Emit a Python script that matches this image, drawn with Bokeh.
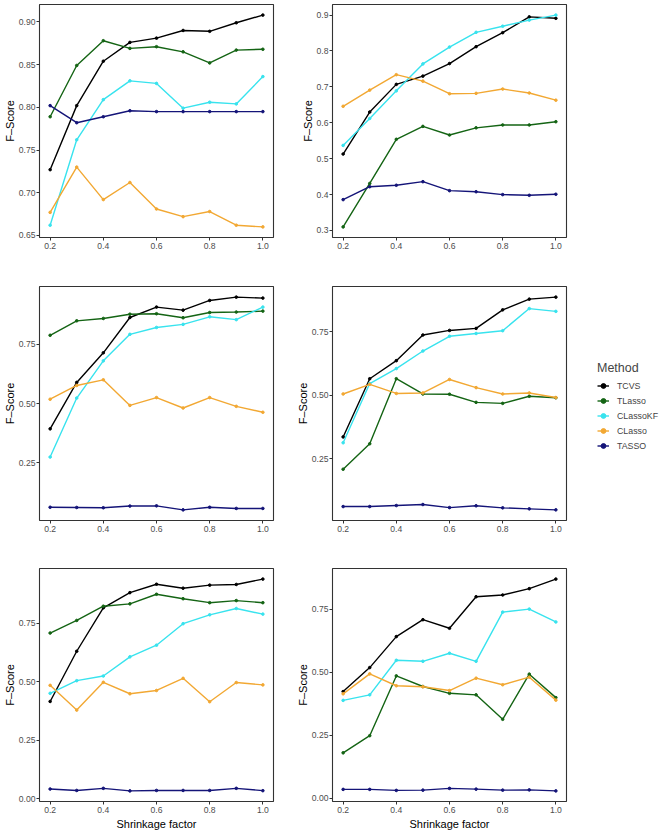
from bokeh.plotting import figure
from bokeh.layouts import row, column
from bokeh.models import Range1d, FixedTicker, PrintfTickFormatter, Legend, LegendItem
from bokeh.embed import file_html
from bokeh.resources import INLINE

# ---------------- data ----------------
shrinkage = [0.2, 0.3, 0.4, 0.5, 0.6, 0.7, 0.8, 0.9, 1.0]
x_ticks = [0.2, 0.4, 0.6, 0.8, 1.0]
methods = ["TCVS", "TLasso", "CLassoKF", "CLasso", "TASSO"]
colors = ["#000000", "#146414", "#38E3EE", "#F2A833", "#141478"]

# panel 1 (top left)
tcvs_1 = [0.727, 0.802, 0.854, 0.876, 0.881, 0.890, 0.889, 0.899, 0.908]
tlasso_1 = [0.789, 0.849, 0.878, 0.869, 0.871, 0.865, 0.852, 0.867, 0.868]
classokf_1 = [0.662, 0.762, 0.809, 0.831, 0.828, 0.799, 0.806, 0.804, 0.836]
classo_1 = [0.677, 0.730, 0.692, 0.712, 0.681, 0.672, 0.678, 0.662, 0.660]
tasso_1 = [0.802, 0.782, 0.789, 0.796, 0.795, 0.795, 0.795, 0.795, 0.795]
yticks_1 = [0.65, 0.70, 0.75, 0.80, 0.85, 0.90]

# panel 2 (top right)
tcvs_2 = [0.513, 0.630, 0.707, 0.730, 0.765, 0.812, 0.851, 0.895, 0.891]
tlasso_2 = [0.310, 0.431, 0.554, 0.590, 0.566, 0.586, 0.594, 0.594, 0.603]
classokf_2 = [0.537, 0.612, 0.689, 0.764, 0.811, 0.852, 0.869, 0.886, 0.900]
classo_2 = [0.646, 0.691, 0.734, 0.716, 0.681, 0.682, 0.694, 0.683, 0.663]
tasso_2 = [0.386, 0.422, 0.426, 0.436, 0.411, 0.408, 0.400, 0.398, 0.401]
yticks_2 = [0.3, 0.4, 0.5, 0.6, 0.7, 0.8, 0.9]

# panel 3 (middle left)
tcvs_3 = [0.393, 0.589, 0.714, 0.863, 0.907, 0.894, 0.935, 0.949, 0.945]
tlasso_3 = [0.788, 0.849, 0.859, 0.877, 0.879, 0.862, 0.884, 0.886, 0.890]
classokf_3 = [0.274, 0.523, 0.680, 0.792, 0.821, 0.834, 0.866, 0.854, 0.907]
classo_3 = [0.518, 0.576, 0.600, 0.492, 0.525, 0.481, 0.525, 0.488, 0.463]
tasso_3 = [0.062, 0.061, 0.060, 0.067, 0.068, 0.051, 0.062, 0.057, 0.057]
yticks_3 = [0.0, 0.25, 0.50, 0.75, 1.0]

# panel 4 (middle right)
tcvs_4 = [0.336, 0.565, 0.636, 0.737, 0.755, 0.763, 0.836, 0.878, 0.886]
tlasso_4 = [0.209, 0.309, 0.565, 0.505, 0.504, 0.472, 0.468, 0.496, 0.490]
classokf_4 = [0.313, 0.546, 0.605, 0.674, 0.732, 0.743, 0.754, 0.841, 0.830]
classo_4 = [0.505, 0.543, 0.507, 0.509, 0.562, 0.530, 0.505, 0.509, 0.491]
tasso_4 = [0.062, 0.062, 0.066, 0.070, 0.058, 0.065, 0.057, 0.053, 0.049]
yticks_4 = [0.0, 0.25, 0.50, 0.75, 1.0]

# panel 5 (bottom left)
tcvs_5 = [0.416, 0.631, 0.817, 0.882, 0.918, 0.901, 0.914, 0.917, 0.940]
tlasso_5 = [0.709, 0.763, 0.824, 0.834, 0.875, 0.856, 0.839, 0.848, 0.839]
classokf_5 = [0.451, 0.505, 0.525, 0.607, 0.657, 0.749, 0.787, 0.814, 0.790]
classo_5 = [0.485, 0.379, 0.498, 0.449, 0.463, 0.515, 0.415, 0.497, 0.487]
tasso_5 = [0.041, 0.035, 0.044, 0.033, 0.035, 0.035, 0.035, 0.044, 0.034]
yticks_5 = [0.0, 0.25, 0.50, 0.75, 1.0]

# panel 6 (bottom right)
tcvs_6 = [0.424, 0.519, 0.642, 0.709, 0.675, 0.800, 0.807, 0.832, 0.870]
tlasso_6 = [0.181, 0.249, 0.486, 0.444, 0.417, 0.411, 0.314, 0.493, 0.400]
classokf_6 = [0.389, 0.411, 0.548, 0.544, 0.576, 0.544, 0.739, 0.751, 0.700]
classo_6 = [0.415, 0.494, 0.447, 0.443, 0.428, 0.477, 0.451, 0.481, 0.390]
tasso_6 = [0.036, 0.036, 0.032, 0.033, 0.040, 0.037, 0.033, 0.034, 0.030]
yticks_6 = [0.0, 0.25, 0.50, 0.75, 1.0]

FONT = "Liberation Sans"


def make_panel(series, yticks, yfmt, width, height, top, bottom, xlabel=None):
    all_vals = [v for s in series for v in s]
    lo, hi = min(all_vals), max(all_vals)
    pad = (hi - lo) * 0.05
    xpad = (max(shrinkage) - min(shrinkage)) * 0.05
    p = figure(width=width, height=height,
               x_range=Range1d(min(shrinkage) - xpad, max(shrinkage) + xpad),
               y_range=Range1d(lo - pad, hi + pad),
               output_backend="svg", toolbar_location=None,
               min_border_left=39, min_border_right=20,
               min_border_top=top, min_border_bottom=bottom)
    p.xgrid.visible = False
    p.ygrid.visible = False
    p.outline_line_color = "#333333"
    p.outline_line_width = 1.1
    p.background_fill_color = "white"
    p.border_fill_color = "white"
    for ax in (p.xaxis[0], p.yaxis[0]):
        ax.axis_line_color = None
        ax.major_tick_in = 0
        ax.major_tick_out = 3
        ax.major_tick_line_color = "#333333"
        ax.minor_tick_line_color = None
        ax.major_label_text_font = FONT
        ax.major_label_text_font_size = "8.6px"
        ax.major_label_text_color = "#4d4d4d"
        ax.major_label_standoff = 1
        ax.axis_label_text_font = FONT
        ax.axis_label_text_font_size = "11px"
        ax.axis_label_text_font_style = "normal"
        ax.axis_label_text_color = "#000000"
        ax.axis_label_standoff = 0
    p.xaxis.ticker = FixedTicker(ticks=x_ticks)
    p.xaxis.formatter = PrintfTickFormatter(format="%.1f")
    p.xaxis.major_label_standoff = 2
    p.yaxis.ticker = FixedTicker(ticks=yticks)
    p.yaxis.formatter = PrintfTickFormatter(format=yfmt)
    p.yaxis.axis_label = "F–Score"
    if xlabel:
        p.xaxis.axis_label = xlabel
        p.xaxis.axis_label_standoff = 2
    for s, c in zip(series, colors):
        p.line(shrinkage, s, line_color=c, line_width=1.4)
        p.scatter(shrinkage, s, size=2.6, fill_color=c, line_color=c)
    return p


p1 = make_panel([tcvs_1, tlasso_1, classokf_1, classo_1, tasso_1], yticks_1, "%.2f", 293, 282, 4, 45)
p2 = make_panel([tcvs_2, tlasso_2, classokf_2, classo_2, tasso_2], yticks_2, "%.1f", 293, 282, 4, 45)
p3 = make_panel([tcvs_3, tlasso_3, classokf_3, classo_3, tasso_3], yticks_3, "%.2f", 293, 282, 4, 44)
p4 = make_panel([tcvs_4, tlasso_4, classokf_4, classo_4, tasso_4], yticks_4, "%.2f", 293, 282, 4, 44)
p5 = make_panel([tcvs_5, tlasso_5, classokf_5, classo_5, tasso_5], yticks_5, "%.2f", 293, 268, 4, 30, "Shrinkage factor")
p6 = make_panel([tcvs_6, tlasso_6, classokf_6, classo_6, tasso_6], yticks_6, "%.2f", 293, 268, 4, 30, "Shrinkage factor")

# legend panel (its key renderers sit outside the visible range)
lg = figure(width=76, height=832, output_backend="svg", toolbar_location=None,
            min_border=0, x_range=Range1d(0, 1), y_range=Range1d(0, 1))
lg.axis.visible = False
lg.xgrid.visible = False
lg.ygrid.visible = False
lg.outline_line_color = None
items = []
for m, c in zip(methods, colors):
    lr = lg.line([5, 6], [5, 6], line_color=c, line_width=1.4)
    sr = lg.scatter([5], [5], size=2.6, fill_color=c, line_color=c)
    items.append(LegendItem(label=m, renderers=[lr, sr]))
legend = Legend(items=items, location=(11, 380), title="Method")
legend.title_text_font = FONT
legend.title_text_font_size = "12.5px"
legend.title_text_font_style = "normal"
legend.title_standoff = 4
legend.label_text_font = FONT
legend.label_text_font_size = "8.8px"
legend.label_standoff = 8
legend.glyph_width = 12
legend.glyph_height = 13
legend.label_height = 13
legend.spacing = 2
legend.padding = 0
legend.margin = 0
legend.border_line_color = None
legend.background_fill_alpha = 0
lg.add_layout(legend)

layout = row(column(row(p1, p2), row(p3, p4), row(p5, p6)), lg)

open("out.html", "w").write(file_html(layout, INLINE))
